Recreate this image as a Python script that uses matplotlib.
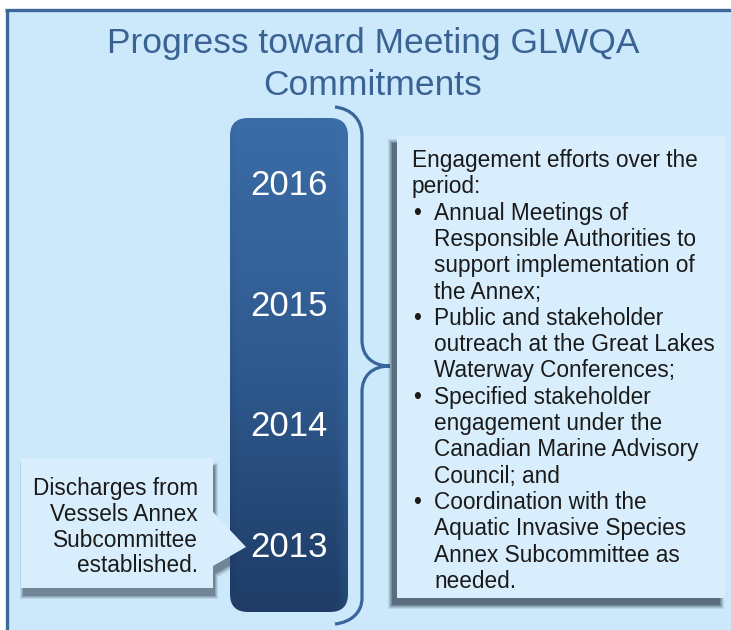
import matplotlib
matplotlib.use("Agg")
import matplotlib.pyplot as plt
import numpy as np
from matplotlib.patches import FancyBboxPatch, Rectangle, Polygon, PathPatch
from matplotlib.path import Path
from matplotlib.colors import LinearSegmentedColormap

# ---- content ----
title_lines = ["Progress toward Meeting GLWQA", "Commitments"]
years = ["2016", "2015", "2014", "2013"]
callout_lines = ["Discharges from", "Vessels Annex", "Subcommittee", "established."]
intro_lines = ["Engagement efforts over the", "period:"]
bullets = [
    ["Annual Meetings of", "Responsible Authorities to",
     "support implementation of", "the Annex;"],
    ["Public and stakeholder", "outreach at the Great Lakes",
     "Waterway Conferences;"],
    ["Specified stakeholder", "engagement under the",
     "Canadian Marine Advisory", "Council; and"],
    ["Coordination with the", "Aquatic Invasive Species",
     "Annex Subcommittee as", "needed."],
]

W, H = 731, 630
BG = "#cce9fc"
BOX = "#d8eefd"
FRAME = "#3d6798"
FONT = "Liberation Sans"
BODY = 16.3

fig = plt.figure(figsize=(W / 100, H / 100), dpi=100)
fig.patch.set_facecolor("white")
ax = fig.add_axes([0, 0, 1, 1])
ax.set_xlim(0, W)
ax.set_ylim(H, 0)
ax.axis("off")

# background panel + frame (top and left edges only visible)
ax.add_patch(Rectangle((7, 10), W, H, facecolor=BG, edgecolor="none", zorder=0))
ax.plot([5, W], [10, 10], color=FRAME, lw=2.4, solid_capstyle="butt", zorder=1)
ax.plot([7, 7], [10, H], color=FRAME, lw=2.4, solid_capstyle="butt", zorder=1)

# title
for i, line in enumerate(title_lines):
    ax.text(373, 53 + i * 42, line, ha="center", va="baseline",
            fontsize=25.5, color="#3a6394", family=FONT)


def soft_shadow(x, y, w, h, dx, dy, z):
    for k, a in enumerate([0.10, 0.12, 0.16, 0.22, 0.30]):
        g = 4 - k
        ax.add_patch(Rectangle((x + dx - g, y + dy - g), w + 2 * g, h + 2 * g,
                               facecolor="#1d2b3a", edgecolor="none",
                               alpha=a, zorder=z))


# timeline bar with vertical gradient
bx, by, bw, bh = 230, 118, 118, 494
bar = FancyBboxPatch((bx, by), bw, bh, boxstyle="round,pad=0,rounding_size=18",
                     facecolor="none", edgecolor="none", zorder=3)
ax.add_patch(bar)
cmap = LinearSegmentedColormap.from_list("bar", ["#3b6ca6", "#2f5a8f", "#1e3c66"])
grad = np.linspace(0, 1, 256).reshape(-1, 1)
edge = np.linspace(0, 1, 60)
shade = grad * np.ones((1, 60))
# slightly lighter strip on the right edge, darker on the left
shade = shade - 0.18 * np.clip((edge - 0.9) / 0.1, 0, 1) + 0.08 * np.clip((0.06 - edge) / 0.06, 0, 1)
im = ax.imshow(shade, extent=(bx, bx + bw, by + bh, by), cmap=cmap, vmin=0, vmax=1,
               aspect="auto", zorder=3, interpolation="bilinear")
im.set_clip_path(bar)
ax.set_xlim(0, W)
ax.set_ylim(H, 0)

for i, yr in enumerate(years):
    ax.text(bx + bw / 2, 195 + i * 120.7, yr, ha="center", va="baseline",
            fontsize=25, color="white", family=FONT, zorder=5)

# curly brace
bxr, tip = 362, 390
verts = [(335, 107), (352, 109), (bxr, 120), (bxr, 136),
         (bxr, 340),
         (bxr, 356), (372, 366), (tip, 366),
         (372, 366), (bxr, 376), (bxr, 392),
         (bxr, 598),
         (bxr, 612), (352, 622), (335, 624)]
codes = [Path.MOVETO, Path.CURVE4, Path.CURVE4, Path.CURVE4,
         Path.LINETO,
         Path.CURVE4, Path.CURVE4, Path.CURVE4,
         Path.CURVE4, Path.CURVE4, Path.CURVE4,
         Path.LINETO,
         Path.CURVE4, Path.CURVE4, Path.CURVE4]
ax.add_patch(PathPatch(Path(verts, codes), facecolor="none", edgecolor="#3a659b",
                       lw=2.3, capstyle="butt", zorder=2))

# right text box
rx, ry, rw, rh = 397, 136, 328, 462
soft_shadow(rx, ry, rw, rh, -5, 7, 2)
ax.add_patch(Rectangle((rx, ry), rw, rh, facecolor=BOX, edgecolor="none", zorder=4))

lines = [(False, t) for t in intro_lines]
for b in bullets:
    for j, t in enumerate(b):
        lines.append((j == 0, t))
for i, (is_bullet, t) in enumerate(lines):
    yb = 167 + i * 26.3
    if i < len(intro_lines):
        ax.text(412, yb, t, ha="left", va="baseline", fontsize=BODY,
                color="#1a1a1a", family=FONT, zorder=5)
    else:
        ax.text(434, yb, t, ha="left", va="baseline", fontsize=BODY,
                color="#1a1a1a", family=FONT, zorder=5)
        if is_bullet:
            ax.text(417, yb, "\u2022", ha="center", va="baseline", fontsize=BODY,
                    color="#1a1a1a", family=FONT, zorder=5)

# left callout
cx0, cy0, cx1, cy1 = 21, 458, 213, 588
call = [(cx0, cy0), (cx1, cy0), (cx1, 512), (246, 547), (cx1, 566),
        (cx1, cy1), (cx0, cy1)]
for k, a in enumerate([0.10, 0.13, 0.18, 0.25]):
    g = 3 - k
    sh = [(x + 2 + (g if x > cx0 else -g), y + 8 + (g if y > cy0 else -g)) for x, y in call]
    ax.add_patch(Polygon(sh, closed=True, facecolor="#1d2b3a", edgecolor="none",
                         alpha=a, zorder=2))
ax.add_patch(Polygon(call, closed=True, facecolor=BOX, edgecolor="none", zorder=4))
for i, t in enumerate(callout_lines):
    ax.text(198, 495 + i * 25.8, t, ha="right", va="baseline", fontsize=BODY,
            color="#1a1a1a", family=FONT, zorder=5)

fig.savefig("out.png", dpi=100, facecolor=fig.get_facecolor())
